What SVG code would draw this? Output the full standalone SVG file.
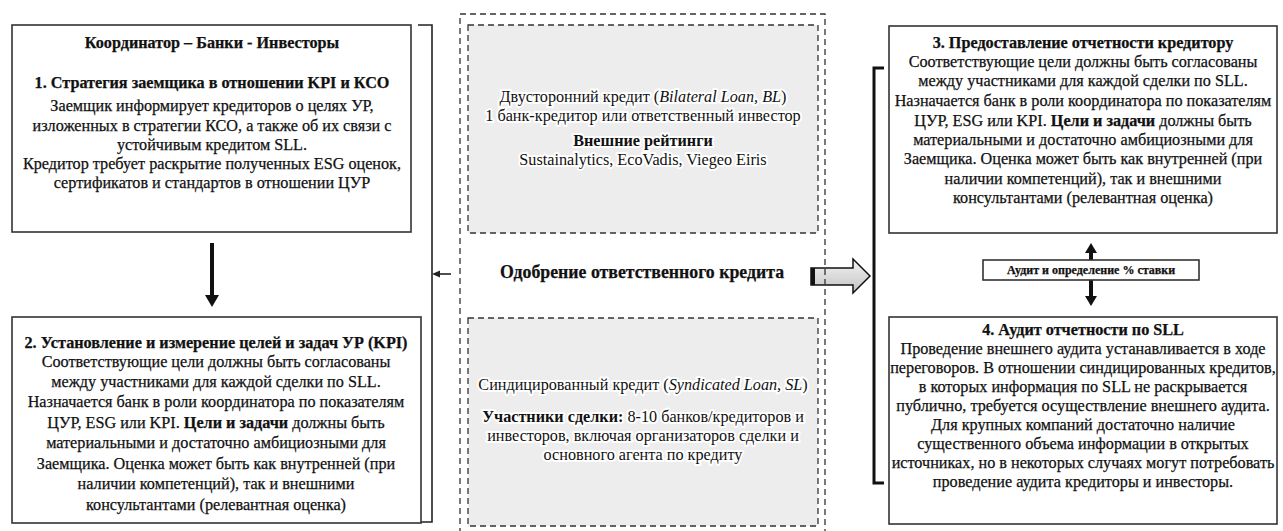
<svg xmlns="http://www.w3.org/2000/svg" width="1283" height="531" viewBox="0 0 1283 531">
  <style>
    .box { fill: #fff; stroke: #333; stroke-width: 1.6; }
    .panel { fill: #ededed; stroke: #333; stroke-width: 1.3; stroke-dasharray: 6 4; }
    .outer { fill: none; stroke: #333; stroke-width: 1.3; stroke-dasharray: 6 4; }
    .t { font-family: "Liberation Serif", "DejaVu Serif", serif; font-size: 16.2px; fill: #111; stroke: #111; stroke-width: 0.25px; text-anchor: middle; }
    .b { font-weight: bold; }
    .halo { paint-order: stroke; stroke: #fff; stroke-width: 4px; stroke-linejoin: round; }
    .line { fill: none; stroke: #222; stroke-width: 1.6; }
    .thick { fill: none; stroke: #111; stroke-width: 3; }
  </style>
  <defs>
    <linearGradient id="arrowFill" x1="0" y1="0" x2="0" y2="1">
      <stop offset="0" stop-color="#f4f4f4"/>
      <stop offset="1" stop-color="#c2c2c2"/>
    </linearGradient>
  </defs>

  <rect width="1283" height="531" fill="#fff"/>

  <!-- connectors -->
  <g id="connectors">
    <!-- step 1 to step 2 -->
    <line x1="212" y1="243" x2="212" y2="296" stroke="#111" stroke-width="4"/>
    <polygon points="205,295 219,295 212,307" fill="#111"/>
    <!-- left bracket -->
    <polyline class="line" points="418,25 432,25 432,522 418,522"/>
    <line x1="451" y1="274" x2="436" y2="274" stroke="#222" stroke-width="1.6"/>
    <polygon points="432,274 440,270.5 440,277.5" fill="#222"/>
    <!-- approval arrow -->
    <polygon points="811,268 853,268 853,259 870,276 853,293 853,285 811,285" fill="url(#arrowFill)" stroke="#111" stroke-width="1.5"/>
    <rect x="811" y="268" width="4" height="17" fill="#111"/>
    <!-- right bracket -->
    <polyline class="thick" points="884,68 874,68 874,483 884,483"/>
    <!-- audit arrows -->
    <line x1="1091" y1="263" x2="1091" y2="252" stroke="#111" stroke-width="4"/>
    <polygon points="1085,253 1097,253 1091,243" fill="#111"/>
    <line x1="1091" y1="277" x2="1091" y2="297" stroke="#111" stroke-width="4"/>
    <polygon points="1085,296 1097,296 1091,306" fill="#111"/>
  </g>

  <!-- step 1 -->
  <g id="step1">
    <rect class="box" x="12" y="25" width="399" height="207"/>
    <text class="t b" x="212" y="48">Координатор – Банки - Инвесторы</text>
    <text class="t b" x="212" y="88">1. Стратегия заемщика в отношении KPI и КСО</text>
    <text class="t" x="212" y="111">Заемщик информирует кредиторов о целях УР,</text>
    <text class="t" x="212" y="131">изложенных в стратегии КСО, а также об их связи с</text>
    <text class="t" x="212" y="150">устойчивым кредитом SLL.</text>
    <text class="t" x="212" y="169">Кредитор требует раскрытие полученных ESG оценок,</text>
    <text class="t" x="212" y="188">сертификатов и стандартов в отношении ЦУР</text>
  </g>

  <!-- step 2 -->
  <g id="step2">
    <rect class="box" x="12" y="317" width="409" height="206"/>
    <text class="t b" x="216" y="348">2. Установление и измерение целей и задач УР (KPI)</text>
    <text class="t" x="216" y="367">Соответствующие цели должны быть согласованы</text>
    <text class="t" x="216" y="387">между участниками для каждой сделки по SLL.</text>
    <text class="t" x="216" y="407">Назначается банк в роли координатора по показателям</text>
    <text class="t" x="216" y="428">ЦУР, ESG или KPI. <tspan class="b">Цели и задачи</tspan> должны быть</text>
    <text class="t" x="216" y="448">материальными и достаточно амбициозными для</text>
    <text class="t" x="216" y="469">Заемщика. Оценка может быть как внутренней (при</text>
    <text class="t" x="216" y="489">наличии компетенций), так и внешними</text>
    <text class="t" x="216" y="510">консультантами (релевантная оценка)</text>
  </g>

  <!-- approval block -->
  <g id="approval">
    <rect class="outer" x="460" y="14" width="365" height="530"/>
    <text class="t b" x="642" y="278" style="font-size:17.8px">Одобрение ответственного кредита</text>
  </g>

  <g id="bilateral">
    <rect class="panel" x="468" y="25" width="350" height="208"/>
    <text class="t halo" x="643" y="102">Двусторонний кредит (<tspan font-style="italic">Bilateral Loan, BL</tspan>)</text>
    <text class="t halo" x="643" y="121">1 банк-кредитор или ответственный инвестор</text>
    <text class="t b halo" x="643" y="146">Внешние рейтинги</text>
    <text class="t halo" x="643" y="165">Sustainalytics, EcoVadis, Viegeo Eiris</text>
  </g>

  <g id="syndicated">
    <rect class="panel" x="468" y="318" width="350" height="208"/>
    <text class="t halo" x="643" y="390">Синдицированный кредит (<tspan font-style="italic">Syndicated Loan,  SL</tspan>)</text>
    <text class="t halo" x="643" y="422"><tspan class="b">Участники сделки:</tspan> 8-10 банков/кредиторов и</text>
    <text class="t halo" x="643" y="441">инвесторов, включая организаторов сделки и</text>
    <text class="t halo" x="643" y="460">основного агента по кредиту</text>
  </g>

  <!-- step 3 -->
  <g id="step3">
    <rect class="box" x="889" y="26" width="388" height="207"/>
    <text class="t b" x="1083" y="48">3. Предоставление отчетности кредитору</text>
    <text class="t" x="1083" y="67">Соответствующие цели должны быть согласованы</text>
    <text class="t" x="1083" y="86">между участниками для каждой сделки по SLL.</text>
    <text class="t" x="1083" y="106">Назначается банк в роли координатора по показателям</text>
    <text class="t" x="1083" y="126">ЦУР, ESG или KPI. <tspan class="b">Цели и задачи</tspan> должны быть</text>
    <text class="t" x="1083" y="145">материальными и достаточно амбициозными для</text>
    <text class="t" x="1083" y="164">Заемщика. Оценка может быть как внутренней (при</text>
    <text class="t" x="1083" y="184">наличии компетенций), так и внешними</text>
    <text class="t" x="1083" y="203">консультантами (релевантная оценка)</text>
  </g>

  <!-- audit / rate -->
  <g id="audit-rate">
    <rect class="box" x="983" y="260" width="216" height="20"/>
    <text class="t b" x="1091" y="274" style="font-size:12px">Аудит и определение % ставки</text>
  </g>

  <!-- step 4 -->
  <g id="step4">
    <rect class="box" x="889" y="317" width="388" height="207"/>
    <text class="t b" x="1083" y="335">4. Аудит отчетности по SLL</text>
    <text class="t" x="1083" y="354">Проведение внешнего аудита устанавливается в ходе</text>
    <text class="t" x="1083" y="373">переговоров. В отношении синдицированных кредитов,</text>
    <text class="t" x="1083" y="392">в которых информация по SLL не раскрывается</text>
    <text class="t" x="1083" y="411">публично, требуется осуществление внешнего аудита.</text>
    <text class="t" x="1083" y="430">Для крупных компаний достаточно наличие</text>
    <text class="t" x="1083" y="449">существенного объема информации в открытых</text>
    <text class="t" x="1083" y="468">источниках, но в некоторых случаях могут потребовать</text>
    <text class="t" x="1083" y="487">проведение аудита кредиторы и инвесторы.</text>
  </g>
</svg>
